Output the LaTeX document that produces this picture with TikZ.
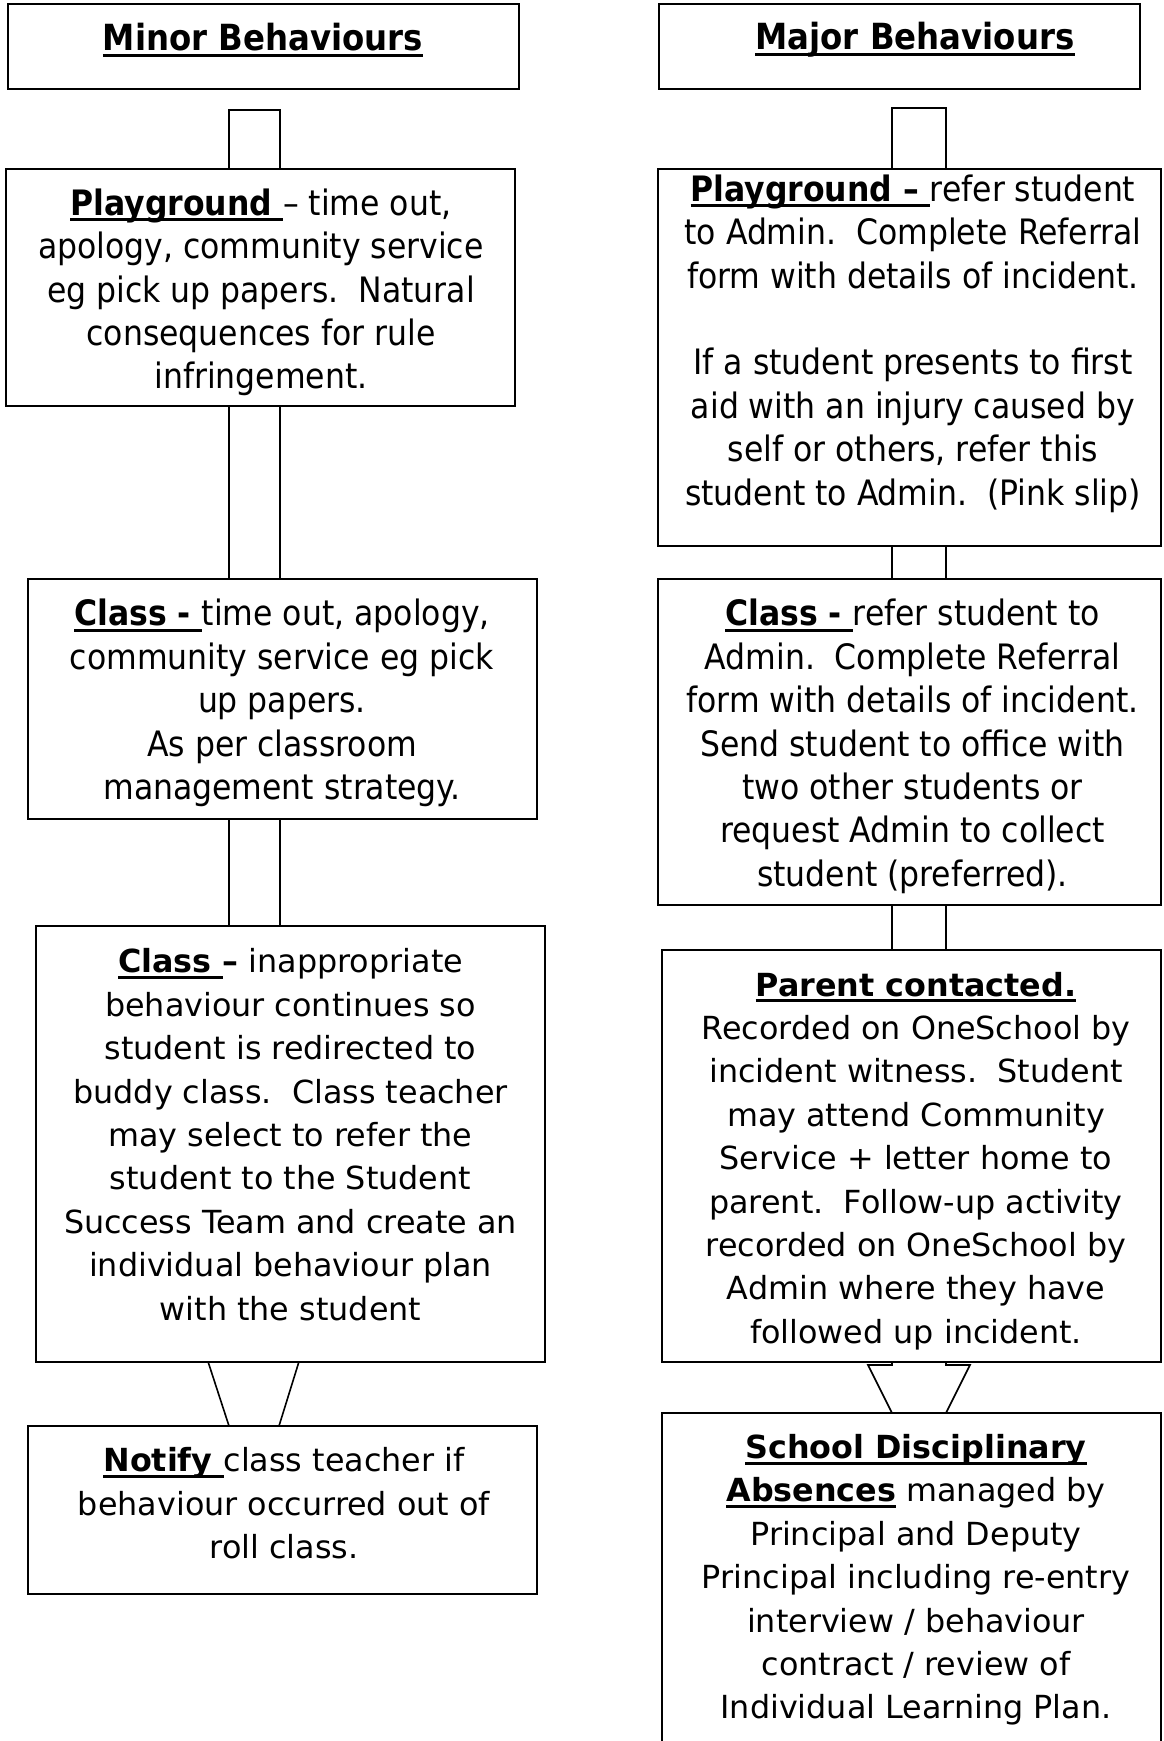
\documentclass[tikz,border=0pt]{standalone}
\usepackage{fontspec}
\setmainfont{DejaVu Sans}
\newfontfamily\tah{DejaVu Sans Condensed}[BoldFont={DejaVu Sans Condensed Bold}]
\newfontfamily\ver{DejaVu Sans}
\usetikzlibrary{calc}
\newcommand\ulx[1]{\setbox0\hbox{#1}\rlap{\rule[-6pt]{\wd0}{3pt}}\box0\relax}
\tikzset{
  box/.style={draw, line width=2pt, rectangle, inner sep=0pt, outer sep=0pt, anchor=north west},
  conn/.style={line width=1.6pt},
  thead/.style={font=\tah\fontsize{36}{43.4}\selectfont, align=center, inner sep=0pt},
  ttah/.style={font=\tah\fontsize{35}{43.4}\selectfont, align=center, inner sep=0pt},
  tver/.style={font=\ver\fontsize{31.8}{43.4}\selectfont, align=center, inner sep=0pt}
}
\begin{document}
\begin{tikzpicture}[x=1pt, y=-1pt]
\useasboundingbox (0,0) rectangle (1163,1741);
\clip (0,0) rectangle (1163,1741);
% left column boxes
\node[box, minimum width=511pt, minimum height=85.5pt] (minor) at (7.5,3.5) {};
\node[box, minimum width=509pt, minimum height=237pt] (lp) at (6,169) {};
\node[box, minimum width=509pt, minimum height=240pt] (lc1) at (28,579) {};
\node[box, minimum width=509.5pt, minimum height=435.5pt] (lc2) at (35.5,926) {};
\node[box, minimum width=509pt, minimum height=168pt] (ln) at (28,1426) {};
% right column boxes
\node[box, minimum width=481pt, minimum height=85.5pt] (major) at (659,3.5) {};
\node[box, minimum width=503pt, minimum height=377pt] (rp) at (658,169) {};
\node[box, minimum width=503pt, minimum height=326pt] (rc) at (658,579) {};
\node[box, minimum width=499pt, minimum height=412pt] (rpar) at (662,950) {};
\node[box, minimum width=499pt, minimum height=360pt] (rs) at (662,1413) {};
% texts
\node[thead] (tminor) at (263,40) {\ulx{\textbf{Minor Behaviours}}};
\node[ttah] (tlp) at (261,292.5) {\ulx{\textbf{Playground }}– time out,\\ apology, community service\\ eg pick up papers.~\ Natural\\ consequences for rule\\ infringement.};
\node[ttah] (tlc1) at (282,703) {\ulx{\textbf{Class - }}time out, apology,\\ community service eg pick\\ up papers.\\ As per classroom\\ management strategy.};
\node[tver] (tlc2) at (290.5,1134.7) {\ulx{\textbf{Class }}\textbf{–} inappropriate\\ behaviour continues so\\ student is redirected to\\ buddy class.~\ Class teacher\\ may select to refer the\\ student to the Student\\ Success Team and create an\\ individual behaviour plan\\ with the student};
\node[tver] (tln) at (284,1503.5) {\ulx{\textbf{Notify }}class teacher if\\ behaviour occurred out of\\ roll class.};
\node[thead] (tmajor) at (915,40) {\ulx{\textbf{Major Behaviours}}};
\node[ttah] (trp) at (913,343.5) {\ulx{\textbf{Playground – }}refer student\\ to Admin.~\ Complete Referral\\ form with details of incident.\\ ~\\ If a student presents to first\\ aid with an injury caused by\\ self or others, refer this\\ student to Admin.~\ (Pink slip)};
\node[ttah] (trc) at (912.5,746.5) {\ulx{\textbf{Class - }}refer student to\\ Admin.~\ Complete Referral\\ form with details of incident.\\ Send student to office with\\ two other students or\\ request Admin to collect\\ student (preferred).};
\node[tver] (trpar) at (916,1161) {\ulx{\textbf{Parent contacted.}}\\ Recorded on OneSchool by\\ incident witness.~\ Student\\ may attend Community\\ Service + letter home to\\ parent.~\ Follow-up activity\\ recorded on OneSchool by\\ Admin where they have\\ followed up incident.};
\node[tver] (trs) at (916,1580) {\ulx{\textbf{School Disciplinary}}\\ \ulx{\textbf{Absences}} managed by\\ Principal and Deputy\\ Principal including re-entry\\ interview / behaviour\\ contract / review of\\ Individual Learning Plan.};
% connector x positions
\coordinate (la) at (229,0);
\coordinate (lb) at (280,0);
\coordinate (ra) at (892,0);
\coordinate (rb) at (946,0);
% left connectors
\draw[conn] (lp.north -| la) -- ++(0,-59) -| (lp.north -| lb);
\draw[conn] (lp.south -| la) -- (lc1.north -| la) (lp.south -| lb) -- (lc1.north -| lb);
\draw[conn] (lc1.south -| la) -- (lc2.north -| la) (lc1.south -| lb) -- (lc2.north -| lb);
\draw[conn] ($(lc2.south -| la)+(-21,0)$) -- (ln.north -| la) ($(lc2.south -| lb)+(19,0)$) -- ($(ln.north -| lb)+(-1,0)$);
% right connectors
\draw[conn] (rp.north -| ra) -- ++(0,-61) -| (rp.north -| rb);
\draw[conn] (rp.south -| ra) -- (rc.north -| ra) (rp.south -| rb) -- (rc.north -| rb);
\draw[conn] (rc.south -| ra) -- (rpar.north -| ra) (rc.south -| rb) -- (rpar.north -| rb);
\draw[conn] (rpar.south -| ra) -- ++(0,3) -- ++(-24,0) -- (rs.north -| ra);
\draw[conn] (rpar.south -| rb) -- ++(0,3) -- ++(24,0) -- (rs.north -| rb);
\end{tikzpicture}
\end{document}
